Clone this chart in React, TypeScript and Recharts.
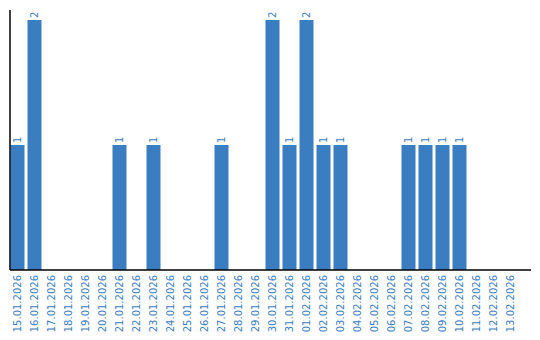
import { BarChart, Bar, XAxis, YAxis, LabelList } from 'recharts';

const dates = [
    '15.01.2026', '16.01.2026', '17.01.2026', '18.01.2026', '19.01.2026',
    '20.01.2026', '21.01.2026', '22.01.2026', '23.01.2026', '24.01.2026',
    '25.01.2026', '26.01.2026', '27.01.2026', '28.01.2026', '29.01.2026',
    '30.01.2026', '31.01.2026', '01.02.2026', '02.02.2026', '03.02.2026',
    '04.02.2026', '05.02.2026', '06.02.2026', '07.02.2026', '08.02.2026',
    '09.02.2026', '10.02.2026', '11.02.2026', '12.02.2026', '13.02.2026',
];
const counts = [1, 2, 0, 0, 0, 0, 1, 0, 1, 0, 0, 0, 1, 0, 0, 2, 1, 2, 1, 1, 0, 0, 0, 1, 1, 1, 1, 0, 0, 0];

const BLUE = '#3b7dc1';
const FONT = '"DejaVu Sans", Verdana, sans-serif';

const data = dates.map((date, i) => ({ date, count: counts[i] }));

function DateTick(props: any) {
    const { x, payload } = props;
    const y = 275;
    return (
        <text
            x={x}
            y={y}
            transform={`rotate(-90, ${x}, ${y})`}
            textAnchor="end"
            dominantBaseline="central"
            fill={BLUE}
            fontSize={10}
            fontFamily={FONT}
        >
            {payload.value}
        </text>
    );
}

function ValueLabel(props: any) {
    const { x, y, width, value } = props;
    if (!value) return null;
    const cx = x + width / 2;
    const ty = y - 2;
    return (
        <text
            x={cx}
            y={ty}
            transform={`rotate(-90, ${cx}, ${ty})`}
            textAnchor="start"
            dominantBaseline="central"
            fill={BLUE}
            fontSize={10}
            fontFamily={FONT}
        >
            {value}
        </text>
    );
}

export default function App() {
    return (
        <div style={styles.wrap}>
            <BarChart
                width={540}
                height={340}
                data={data}
                margin={{ top: 10, right: 9, bottom: 0, left: 0 }}
                barSize={14}
            >
                <XAxis
                    dataKey="date"
                    interval={0}
                    height={70}
                    tickLine={false}
                    axisLine={{ stroke: '#000', strokeWidth: 1.5 }}
                    tick={<DateTick />}
                    padding={{ left: -1.5, right: 12.5 }}
                />
                <YAxis
                    width={10}
                    domain={[0, 2.08]}
                    tick={false}
                    tickLine={false}
                    axisLine={{ stroke: '#000', strokeWidth: 1.5 }}
                />
                <Bar dataKey="count" fill={BLUE} isAnimationActive={false}>
                    <LabelList dataKey="count" content={<ValueLabel />} />
                </Bar>
            </BarChart>
        </div>
    );
}

const styles: Record<string, React.CSSProperties> = {
    wrap: {
        position: 'absolute',
        left: 0,
        top: 0,
        width: '540px',
        height: '340px',
        background: '#fff',
    },
};
